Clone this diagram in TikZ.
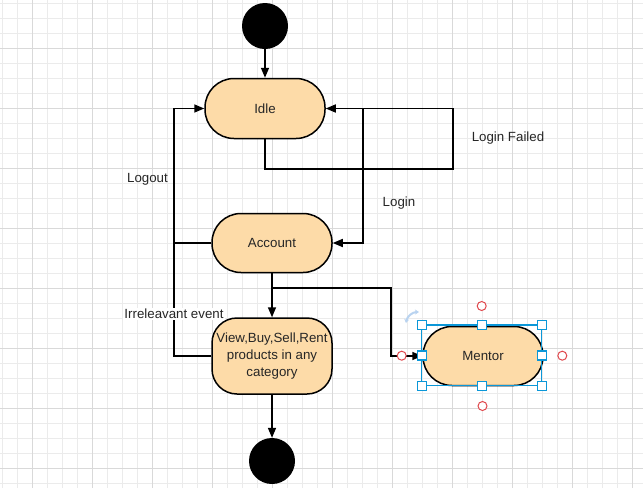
\documentclass[tikz,border=0pt]{standalone}
\usepackage{fontspec}
\setmainfont{Liberation Sans}
\usetikzlibrary{arrows.meta}
\definecolor{statefill}{HTML}{FDDBA8}
\definecolor{gridminor}{HTML}{EBEBEB}
\definecolor{gridmajor}{HTML}{D9D9D9}
\definecolor{handleblue}{HTML}{0B97D8}
\definecolor{handlered}{HTML}{E0474C}
\definecolor{rotateblue}{HTML}{B9D3F0}
\begin{document}
\begin{tikzpicture}[x=1pt,y=-1pt,
    state/.style={draw,line width=1.5pt,fill=statefill,minimum width=120pt,
      minimum height=60pt,rounded corners=29pt,inner sep=0pt,align=center,
      text=black!85,font=\fontsize{13.3}{16.7}\selectfont},
    dot/.style={circle,fill=black,minimum size=46pt,inner sep=0pt},
    lbl/.style={text=black!85,font=\fontsize{13.3}{16}\selectfont,inner sep=1pt},
    flow/.style={line width=1.6pt,-{Triangle[length=10pt,width=8pt]}},
    handle/.style={draw=handleblue,fill=white,line width=1.4pt,minimum size=9pt,inner sep=0pt},
    ring/.style={circle,draw=handlered,fill=white,line width=1pt,minimum size=9pt,inner sep=0pt}]
  \useasboundingbox (0,0) rectangle (643,488);
  \fill[white] (0,0) rectangle (643,488);
  \foreach \x in {2.7,17.7,...,643}
    \draw[gridminor,line width=1.2pt] (\x,0) -- (\x,488);
  \foreach \y in {3.3,18.3,...,488}
    \draw[gridminor,line width=1.2pt] (0,\y) -- (643,\y);
  \foreach \x in {32.7,92.7,...,643}
    \draw[gridmajor,line width=1.2pt] (\x,0) -- (\x,488);
  \foreach \y in {48.3,108.3,...,488}
    \draw[gridmajor,line width=1.2pt] (0,\y) -- (643,\y);

  \node[dot] (start) at (265,26) {};
  \node[state] (idle) at (265,108.5) {Idle};
  \node[state,minimum height=59pt] (account) at (272,243) {Account};
  \node[state,minimum height=76pt,rounded corners=25pt] (view) at (272,356)
    {View,Buy,Sell,Rent\\products in any\\category};
  \node[state,minimum height=59pt] (mentor) at (483,356) {Mentor};
  \node[dot] (end) at (272,461) {};

  \coordinate (failcorner) at (453,169);
  \coordinate (loginstart) at (363,108.5);
  \coordinate (logoutcorner) at (174,108.5);
  \coordinate (branch) at (272,288);
  \coordinate (mentorcorner) at (391,288);

  \begin{scope}[line width=1.6pt]
    \draw[flow] (start) -- (idle);
    \draw[flow] (idle.south) |- (failcorner) |- (idle.east);
    \draw[flow] (loginstart) |- (account.east);
    \draw[flow] (view.west) -| (logoutcorner) -- (idle.west);
    \draw (account.west) -- (account.west -| logoutcorner);
    \draw[flow] (account) -- (view);
    \draw[flow] (branch) -- (mentorcorner) |- (mentor.west);
    \draw[flow] (view) -- (end);
  \end{scope}

  \node[lbl] (failed) at (508,138) {Login Failed};
  \node[lbl] (login) at (399,203) {Login};
  \node[lbl] (logout) at (147.5,179) {Logout};
  \node[lbl,fill=white] (irrelevant) at (174,314) {Irreleavant event};

  \draw[handleblue,line width=1.4pt] (421.7,325) rectangle (541.7,385.7);
  \foreach \hx/\hy [count=\i] in {421.7/325,481.7/325,541.7/325,421.7/355.5,
      541.7/355.5,421.7/385.7,481.7/385.7,541.7/385.7}
    \node[handle] (h\i) at (\hx,\hy) {};
  \foreach \rx/\ry [count=\i] in {481.7/306,562.3/355.7,482.5/406,401.7/355.7}
    \node[ring] (r\i) at (\rx,\ry) {};
  \draw[rotateblue,line width=2pt,{Stealth[length=4pt,width=5pt]}-{Stealth[length=4pt,width=5pt]}]
    (406,323) to[bend left=40] (419,312);
\end{tikzpicture}
\end{document}
